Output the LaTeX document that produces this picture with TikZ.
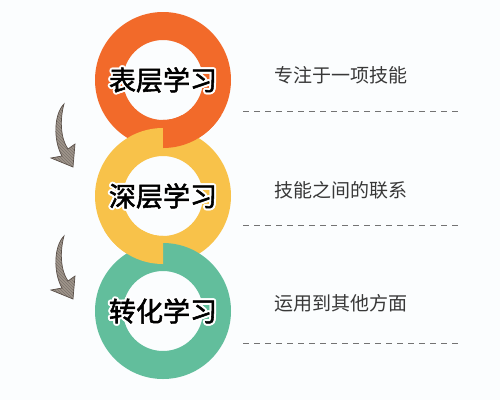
\documentclass[tikz,border=0pt]{standalone}
\usepackage{fontspec}
\newfontfamily\cjk{Noto Sans CJK SC}
\newfontfamily\cjkheavy[FakeBold=2]{Noto Sans CJK SC}
\usetikzlibrary{calc,patterns}
\definecolor{ringorange}{HTML}{F26A2A}
\definecolor{ringyellow}{HTML}{F8C24A}
\definecolor{ringgreen}{HTML}{62BE9C}
\definecolor{arrowbrown}{HTML}{A0958B}
\definecolor{arrowline}{HTML}{5A5049}
\definecolor{paper}{HTML}{FBFDFE}

\begin{document}
\begin{tikzpicture}[x=1pt,y=-1pt,
    ring/.style={even odd rule},
    ringtext/.style={font=\cjkheavy\fontsize{27}{27}\selectfont, inner sep=0pt},
    sidetext/.style={font=\cjk\fontsize{19}{19}\selectfont, text=black!78, anchor=west, inner sep=0pt},
    divider/.style={draw=black!55, line width=0.9pt, dash pattern=on 6pt off 5pt},
    bentarrow/.style={draw=arrowline, line width=0.7pt, preaction={fill=arrowbrown}, pattern=north west lines, pattern color=arrowline!80}
  ]
  \useasboundingbox[fill=paper] (0,0) rectangle (500,400);

  \coordinate (c1) at (163,80);
  \coordinate (c2) at (163,196);
  \coordinate (c3) at (163,311);

  \fill[ringorange, ring] (c1) circle (68pt) (c1) circle (40pt);
  \fill[ringyellow, ring] (c2) circle (68pt) (c2) circle (40pt);
  \fill[ringgreen, ring] (c3) circle (68pt) (c3) circle (40pt);
  \begin{scope}
    \clip (163,115) rectangle (240,160);
    \fill[ringorange, ring] (c1) circle (68pt) (c1) circle (40pt);
  \end{scope}
  \begin{scope}
    \clip (90,230) rectangle (163,275);
    \fill[ringyellow, ring] (c2) circle (68pt) (c2) circle (40pt);
  \end{scope}

  \foreach \n/\t in {1/表层学习,2/深层学习,3/转化学习} {
    \foreach \a in {0,30,...,330}
      \node[ringtext, text=white] at ($(c\n)+(\a:2pt)$) {\t};
    \node[ringtext] (label\n) at (c\n) {\t};
  }

  \node[sidetext] (note1) at (274,75) {专注于一项技能};
  \node[sidetext] (note2) at (274,190) {技能之间的联系};
  \node[sidetext] (note3) at (274,303) {运用到其他方面};

  \draw[divider] (243,111) -- (461,111);
  \draw[divider] (243,225) -- (461,225);
  \draw[divider] (243,343) -- (461,343);

  \foreach \dy in {0,132}
    \draw[bentarrow, shift={(0,\dy)}] (64,104) .. controls (54,114) and (53,140) .. (62,156)
      -- (51,158) -- (73,167) -- (75,144) -- (68,149)
      .. controls (60,138) and (60,118) .. (64,104) -- cycle;
\end{tikzpicture}
\end{document}
